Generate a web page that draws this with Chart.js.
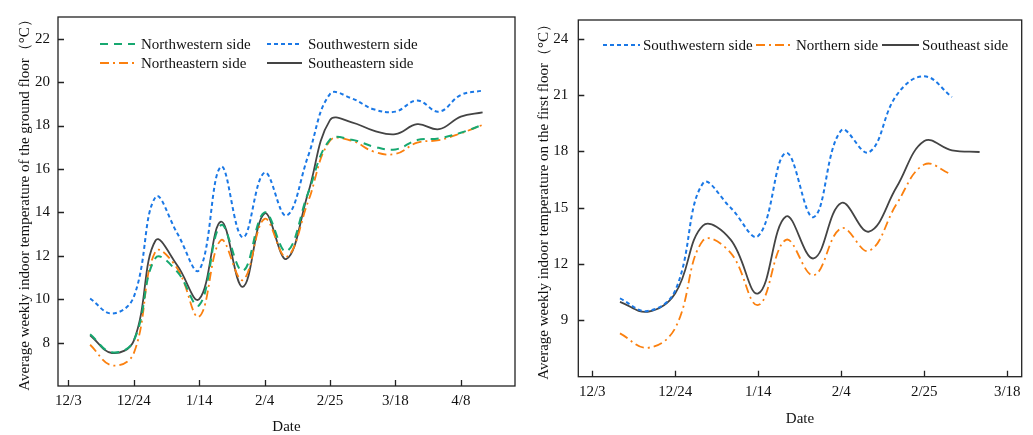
<!DOCTYPE html>
<html>
<head>
<meta charset="utf-8">
<script src="https://cdn.jsdelivr.net/npm/chart.js@4.4.1/dist/chart.umd.min.js"></script>
<style>
  html, body { margin: 0; padding: 0; background: #fff; }
  #wrap { position: relative; width: 1033px; height: 435px; }
  canvas { position: absolute; top: 0; }
</style>
</head>
<body>
<div id="wrap">
  <canvas id="ground" width="520" height="435" style="left:0"></canvas>
  <canvas id="first" width="513" height="435" style="left:520px"></canvas>
</div>
<script>
// days are counted from 12/3, one value per week
const groundDays = [7, 14, 21, 28, 35, 42, 49, 56, 63, 70, 77, 84, 91, 98, 105, 112, 119, 126, 133];
const groundNW = [8.38, 7.55, 8.08, 11.9, 11.26, 9.72, 13.41, 11.3, 14.0, 12.2, 14.9, 17.35, 17.35, 17.03, 16.9, 17.33, 17.41, 17.67, 18.03];
const groundSW = [10.03, 9.34, 10.1, 14.7, 13.03, 11.34, 16.1, 12.85, 15.83, 13.85, 16.6, 19.45, 19.25, 18.75, 18.64, 19.15, 18.64, 19.41, 19.61];
const groundNE = [7.9, 6.95, 7.5, 12.2, 11.41, 9.2, 12.72, 10.88, 13.7, 11.95, 14.5, 17.3, 17.3, 16.8, 16.69, 17.21, 17.33, 17.64, 18.03];
const groundSE = [8.34, 7.52, 8.08, 12.7, 11.55, 10.0, 13.57, 10.57, 13.95, 11.85, 14.9, 18.25, 18.15, 17.77, 17.6, 18.06, 17.83, 18.41, 18.61];
const groundTickDays = [0, 21, 42, 63, 84, 105, 126];
const groundTickLabels = ['12/3', '12/24', '1/14', '2/4', '2/25', '3/18', '4/8'];
const groundYTicks = [8, 10, 12, 14, 16, 18, 20, 22];

const firstDays = [7, 14, 21, 28, 35, 42, 49, 56, 63, 70, 77, 84, 91, 98];
const firstSW = [10.17, 9.5, 10.6, 16.3, 15.0, 13.5, 17.92, 14.5, 19.12, 17.95, 21.0, 22.0, 20.9];
const firstN = [8.31, 7.54, 8.6, 13.25, 12.6, 9.82, 13.29, 11.4, 13.91, 12.7, 15.2, 17.3, 16.76];
const firstSE = [9.99, 9.46, 10.44, 14.05, 13.3, 10.44, 14.53, 12.3, 15.25, 13.73, 16.1, 18.55, 18.06, 17.97];
const firstTickDays = [0, 21, 42, 63, 84, 105];
const firstTickLabels = ['12/3', '12/24', '1/14', '2/4', '2/25', '3/18'];
const firstYTicks = [9, 12, 15, 18, 21, 24];

const FONT = "'Liberation Serif', 'Times New Roman', serif";
const styles = {
  nw: { borderColor: '#17a870', borderWidth: 2, borderDash: [8, 6] },
  sw: { borderColor: '#1a78e6', borderWidth: 2, borderDash: [4, 3] },
  ne: { borderColor: '#fb800f', borderWidth: 1.8, borderDash: [9, 4, 2, 4] },
  se: { borderColor: '#444444', borderWidth: 1.8, borderDash: [] }
};

function xy(days, vals) {
  return vals.map((v, i) => ({ x: days[i], y: v }));
}

// box around the plot, inward ticks and the legend inside the plot
const framePlugin = {
  id: 'frame',
  afterDraw(chart, args, opts) {
    const { ctx, chartArea: a, scales: { x, y } } = chart;
    ctx.save();
    ctx.strokeStyle = '#222';
    ctx.lineWidth = 1.3;
    ctx.setLineDash([]);
    ctx.strokeRect(a.left, a.top, a.right - a.left, a.bottom - a.top);
    ctx.beginPath();
    x.ticks.forEach(t => {
      const px = Math.round(x.getPixelForValue(t.value)) + 0.5;
      ctx.moveTo(px, a.bottom);
      ctx.lineTo(px, a.bottom - 6);
    });
    y.ticks.forEach(t => {
      const py = Math.round(y.getPixelForValue(t.value)) + 0.5;
      ctx.moveTo(a.left, py);
      ctx.lineTo(a.left + 6, py);
    });
    ctx.stroke();

    ctx.font = '15px ' + FONT;
    ctx.textBaseline = 'middle';
    ctx.fillStyle = '#111';
    chart.data.datasets.forEach((ds, i) => {
      const [lx, ly] = opts.pos[i];
      ctx.strokeStyle = ds.borderColor;
      ctx.lineWidth = ds.borderWidth;
      ctx.setLineDash(ds.borderDash);
      ctx.beginPath();
      ctx.moveTo(lx, ly);
      ctx.lineTo(lx + opts.lineLen, ly);
      ctx.stroke();
      ctx.fillText(ds.label, lx + opts.lineLen + opts.gap, ly + 1);
    });
    ctx.restore();
  }
};

function makeChart(id, o) {
  return new Chart(document.getElementById(id), {
    type: 'line',
    data: { datasets: o.datasets },
    plugins: [framePlugin],
    options: {
      responsive: false,
      animation: false,
      layout: { padding: o.padding },
      elements: { point: { radius: 0 }, line: { tension: 0.4, fill: false } },
      plugins: {
        legend: { display: false },
        tooltip: { enabled: false },
        frame: o.legend
      },
      scales: {
        x: {
          type: 'linear',
          min: o.xMin,
          max: o.xMax,
          grid: { display: false, drawTicks: false },
          border: { display: false },
          afterBuildTicks: s => { s.ticks = o.tickDays.map(v => ({ value: v })); },
          afterFit: s => { s.height = o.xHeight; },
          ticks: {
            autoSkip: false,
            maxRotation: 0,
            padding: o.xPad,
            color: '#111',
            font: { family: FONT, size: 15 },
            callback: v => o.tickLabels[o.tickDays.indexOf(v)]
          },
          title: {
            display: true,
            text: 'Date',
            color: '#111',
            font: { family: FONT, size: 15, lineHeight: 1 },
            padding: { top: 0, bottom: o.xTitlePad }
          }
        },
        y: {
          min: o.yMin,
          max: o.yMax,
          grid: { display: false, drawTicks: false },
          border: { display: false },
          afterBuildTicks: s => { s.ticks = o.yTicks.map(v => ({ value: v })); },
          afterFit: s => { s.width = o.yWidth; },
          ticks: {
            padding: o.yPad,
            color: '#111',
            font: { family: FONT, size: 15 }
          },
          title: {
            display: true,
            text: o.yTitle,
            color: '#111',
            font: { family: FONT, size: 15, lineHeight: 1 },
            padding: { top: o.yTitlePad, bottom: 0 }
          }
        }
      }
    }
  });
}

makeChart('ground', {
  datasets: [
    { label: 'Northwestern side', data: xy(groundDays, groundNW), ...styles.nw },
    { label: 'Southwestern side', data: xy(groundDays, groundSW), ...styles.sw },
    { label: 'Northeastern side', data: xy(groundDays, groundNE), ...styles.ne },
    { label: 'Southeastern side', data: xy(groundDays, groundSE), ...styles.se }
  ],
  padding: { top: 17, right: 5, left: 0, bottom: 0 },
  xMin: -3.31, xMax: 143.4, xHeight: 49, xPad: 6, xTitlePad: 0,
  yMin: 6, yMax: 23, yWidth: 58, yPad: 8, yTitlePad: 18,
  tickDays: groundTickDays, tickLabels: groundTickLabels, yTicks: groundYTicks,
  yTitle: 'Average weekly indoor temperature of the ground floor（°C）',
  legend: { pos: [[100, 44], [267, 44], [100, 63], [267, 63]], lineLen: 35, gap: 6 }
});

makeChart('first', {
  datasets: [
    { label: 'Southwestern side', data: xy(firstDays, firstSW), ...styles.sw },
    { label: 'Northern side', data: xy(firstDays, firstN), ...styles.ne },
    { label: 'Southeast side', data: xy(firstDays, firstSE), ...styles.se }
  ],
  padding: { top: 20, right: 11.3, left: 0, bottom: 0 },
  xMin: -3.54, xMax: 108.65, xHeight: 58.3, xPad: 6, xTitlePad: 8,
  yMin: 6, yMax: 25, yWidth: 58.3, yPad: 10, yTitlePad: 17,
  tickDays: firstTickDays, tickLabels: firstTickLabels, yTicks: firstYTicks,
  yTitle: 'Average weekly indoor temperature on the first floor（°C）',
  legend: { pos: [[83, 45], [236, 45], [362, 45]], lineLen: 37, gap: 3 }
});
</script>
</body>
</html>
